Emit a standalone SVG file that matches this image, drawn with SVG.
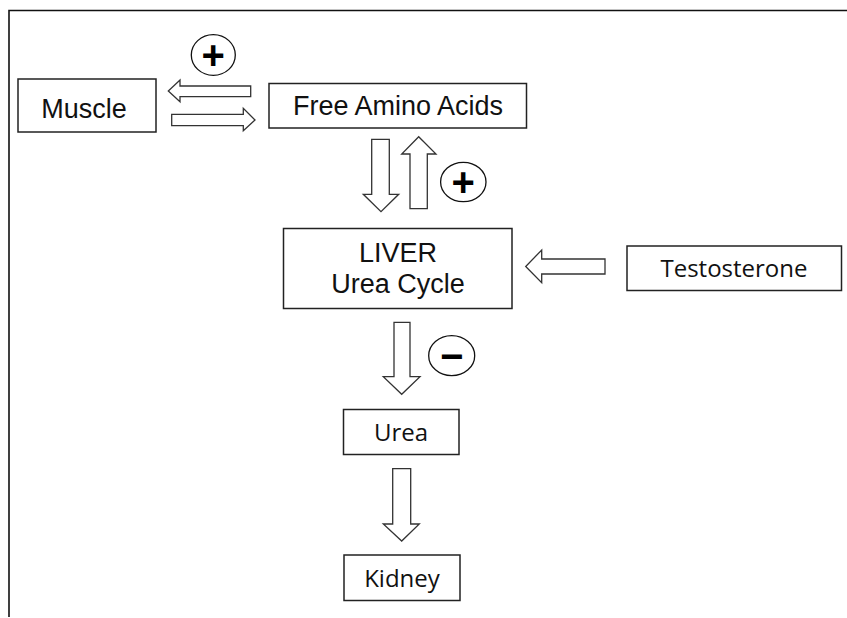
<svg xmlns="http://www.w3.org/2000/svg" width="847" height="618" viewBox="0 0 847 618">
<style>
  .box { fill: #fff; stroke: #222; stroke-width: 1.5; }
  .arr { fill: #fff; stroke: #333; stroke-width: 1.3; stroke-linejoin: miter; }
  .sym { fill: #fff; stroke: #111; stroke-width: 1.3; }
  .ar { font-family: "Liberation Sans", Arial, sans-serif; font-size: 27px; fill: #111; text-anchor: middle; }
  .ca { font-family: "Open Sans", "Noto Sans", sans-serif; font-size: 24px; fill: #111; text-anchor: middle; }
  .sg { font-family: "Liberation Sans", Arial, sans-serif; font-size: 40px; font-weight: bold; fill: #000; text-anchor: middle; }
  .frame { stroke: #111; stroke-width: 1.6; fill: none; }
</style>
<rect width="847" height="618" fill="#fff"/>
<path class="frame" d="M9,617 V10.5 H847"/>

<g id="connectors">
  <!-- FAA -> Muscle (left) -->
  <path class="arr" d="M250.7,86 H180 V80 L168.3,91 L180,101.7 V96.7 H250.7 Z"/>
  <!-- Muscle -> FAA (right) -->
  <path class="arr" d="M171.7,114.3 H243.3 V108.3 L255,120 L243.3,130.7 V125.7 H171.7 Z"/>
  <!-- FAA -> LIVER (down) -->
  <path class="arr" d="M371.7,139.3 H389.3 V194.3 H398.7 L381,211.7 L363.3,194.3 H371.7 Z"/>
  <!-- LIVER -> FAA (up) -->
  <path class="arr" d="M410,208.7 H427.3 V154 H436 L418.7,136.7 L401.7,154 H410 Z"/>
  <!-- Testosterone -> LIVER -->
  <path class="arr" d="M605,259 H541.7 V250 L525.7,266.5 L541.7,282.7 V274 H605 Z"/>
  <!-- LIVER -> Urea -->
  <path class="arr" d="M394,322.3 H410 V376.7 H420 L401.7,394.3 L383.3,376.7 H394 Z"/>
  <!-- Urea -> Kidney -->
  <path class="arr" d="M392.7,468.7 H410.7 V524 H419.3 L401.7,541 L383.3,524 H392.7 Z"/>
</g>

<g id="sign-plus-top">
  <ellipse class="sym" cx="213.3" cy="55" rx="22" ry="20.3"/>
  <text class="sg" x="213.3" y="69">+</text>
</g>
<g id="sign-plus-mid">
  <ellipse class="sym" cx="463.3" cy="182" rx="22.7" ry="19.7"/>
  <text class="sg" x="463.3" y="196">+</text>
</g>
<g id="sign-minus">
  <ellipse class="sym" cx="451.7" cy="355.7" rx="23" ry="20"/>
  <text class="sg" x="451.7" y="369.5">−</text>
</g>

<g id="muscle">
  <rect class="box" x="18" y="79" width="138" height="53"/>
  <text class="ar" x="84" y="118">Muscle</text>
</g>
<g id="free-amino-acids">
  <rect class="box" x="269" y="83.5" width="257.5" height="44.5"/>
  <text class="ar" x="398" y="115">Free Amino Acids</text>
</g>
<g id="liver">
  <rect class="box" x="283.5" y="228.5" width="228.5" height="80"/>
  <text class="ar" x="398" y="261.5">LIVER</text>
  <text class="ar" x="398" y="293">Urea Cycle</text>
</g>
<g id="testosterone">
  <rect class="box" x="627" y="246" width="214.5" height="44.5"/>
  <text class="ca" x="734" y="277">Testosterone</text>
</g>
<g id="urea">
  <rect class="box" x="343.5" y="409.5" width="115.5" height="45"/>
  <text class="ca" x="401" y="441">Urea</text>
</g>
<g id="kidney">
  <rect class="box" x="344" y="555" width="116" height="45.5"/>
  <text class="ca" x="402" y="587">Kidney</text>
</g>
</svg>
